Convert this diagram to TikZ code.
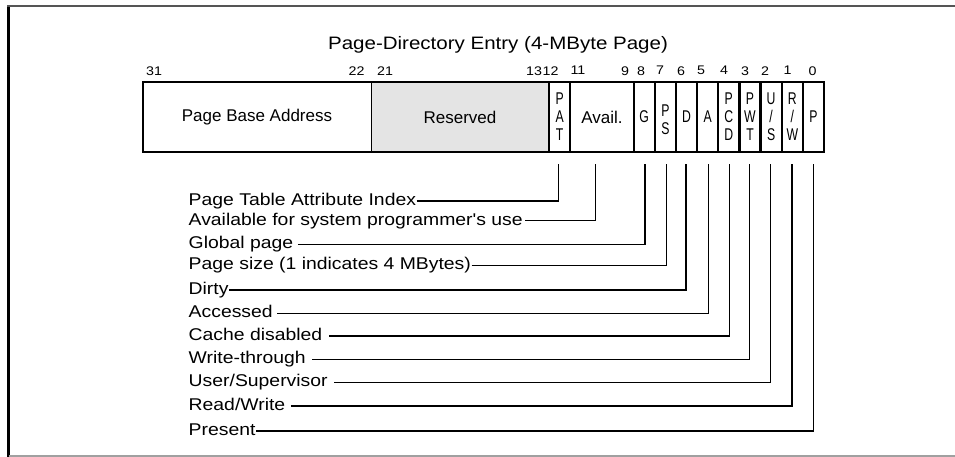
\documentclass[tikz,border=0pt]{standalone}
\usepackage{fontspec}
\setmainfont{Liberation Sans}
\newfontfamily\lblfont{Liberation Sans}[FakeStretch=1.14]
\newfontfamily\narrowfont{Liberation Sans}[FakeStretch=0.72]
\definecolor{resv}{HTML}{E4E4E4}
\definecolor{topline}{HTML}{555555}
\definecolor{botline}{HTML}{A0A0A0}
\begin{document}
\begin{tikzpicture}[x=1pt,y=-1pt,
  cell/.style={draw, line width=2.2pt, inner sep=0pt, minimum height=70pt, anchor=center},
  bigcell/.style={draw, line width=1pt, inner sep=0pt, minimum height=70pt, anchor=center, font=\fontsize{17}{20}\selectfont},
  stk/.style={align=center, font=\narrowfont\fontsize{17}{18}\selectfont},
  lbl/.style={anchor=base west, inner ysep=0pt, inner xsep=0.5pt, font=\lblfont\fontsize{17}{20}\selectfont},
  num/.style={inner sep=0pt, font=\lblfont\fontsize{12.5}{14}\selectfont},
  thk/.style={line width=1.6pt},
  thn/.style={line width=0.9pt}]
\useasboundingbox (0,0) rectangle (955,457);
% frame
\draw[line width=3.5pt] (8.7,5.5) -- (8.7,457);
\draw[topline, line width=2pt] (7,6.5) -- (955,6.5);
\draw[botline, line width=1.2pt] (8.7,456) -- (955,456);
% title
\node[font=\lblfont\fontsize{18}{20}\selectfont] (title) at (498,45) {Page-Directory Entry (4-MByte Page)};
% bit numbers
\node[num] (n31) at (154,70.7) {31};
\node[num] (n22) at (356.5,70.7) {22};
\node[num] (n21) at (385,70.7) {21};
\node[num] (n13) at (534,70.7) {13};
\node[num] (n12) at (550.5,70.7) {12};
\node[num] (n11) at (578,70.7) {11};
\node[num] (n9) at (625,70.7) {9};
\node[num] (n8) at (641,70.7) {8};
\node[num] (n7) at (660,70.7) {7};
\node[num] (n6) at (681,70.7) {6};
\node[num] (n5) at (701,70.7) {5};
\node[num] (n4) at (724,70.7) {4};
\node[num] (n3) at (745,70.7) {3};
\node[num] (n2) at (765,70.7) {2};
\node[num] (n1) at (787.5,70.7) {1};
\node[num] (n0) at (812.5,70.7) {0};
% register
\node[bigcell, minimum width=228pt] (pba) at (257,117) {Page Base Address};
\node[bigcell, fill=resv, minimum width=178pt] (res) at (460,117) {Reserved};
\node[cell, minimum width=21.15pt] (pat) at (559.6,117) {};
\node[stk] at (pat) {P\\A\\T};
\node[cell, minimum width=63.45pt, font=\fontsize{17}{20}\selectfont] (avl) at (601.9,117) {Avail.};
\node[cell, minimum width=21.15pt] (g) at (644.2,117) {};
\node[stk] at (g) {G};
\node[cell, minimum width=21.15pt] (ps) at (665.4,117) {};
\node[stk] at ([yshift=-3pt]ps.center) {P\\S};
\node[cell, minimum width=21.15pt] (d) at (686.5,117) {};
\node[stk] at (d) {D};
\node[cell, minimum width=21.15pt] (a) at (707.6,117) {};
\node[stk] at (a) {A};
\node[cell, minimum width=21.15pt] (pcd) at (728.8,117) {};
\node[stk] at (pcd) {P\\C\\D};
\node[cell, minimum width=21.15pt] (pwt) at (750,117) {};
\node[stk] at (pwt) {P\\W\\T};
\node[cell, minimum width=21.15pt] (us) at (771.1,117) {};
\node[stk] at (us) {U\\/\\S};
\node[cell, minimum width=21.15pt] (rw) at (792.3,117) {};
\node[stk] at (rw) {R\\/\\W};
\node[cell, minimum width=21.15pt] (p) at (813.4,117) {};
\node[stk] at (p) {P};
\draw[line width=2pt] (143,82) rectangle (824,152);
% labels
\node[lbl] (l1) at (188,205.5) {Page Table Attribute Index};
\node[lbl] (l2) at (188,225.2) {Available for system programmer's use};
\node[lbl] (l3) at (188,248.8) {Global page};
\node[lbl] (l4) at (188,269.5) {Page size (1 indicates 4 MBytes)};
\node[lbl] (l5) at (188,294.5) {Dirty};
\node[lbl] (l6) at (188,317.8) {Accessed};
\node[lbl] (l7) at (188,340.5) {Cache disabled};
\node[lbl] (l8) at (188,363.8) {Write-through};
\node[lbl] (l9) at (188,386.8) {User/Supervisor};
\node[lbl] (l10) at (188,410.5) {Read/Write};
\node[lbl] (l11) at (188,435.2) {Present};
% connectors
\draw[thk] ([yshift=4.5pt]l1.base east) -| ([xshift=-1.3pt,yshift=-11pt]pat.south);
\draw[thn] ([xshift=2pt,yshift=4.5pt]l2.base east) -| ([xshift=-6.9pt,yshift=-11pt]avl.south);
\draw[thk] ([xshift=4pt,yshift=4.5pt]l3.base east) -| ([xshift=0.8pt,yshift=-11pt]g.south);
\draw[thn] ([yshift=4.5pt]l4.base east) -| ([xshift=1.3pt,yshift=-11pt]ps.south);
\draw[thk] ([yshift=4.5pt]l5.base east) -| ([xshift=-0.8pt,yshift=-11pt]d.south);
\draw[thn] ([xshift=4pt,yshift=4.5pt]l6.base east) -| ([xshift=0.7pt,yshift=-11pt]a.south);
\draw[thk] ([xshift=6pt,yshift=4.5pt]l7.base east) -| ([xshift=0.5pt,yshift=-11pt]pcd.south);
\draw[thn] ([xshift=6pt,yshift=4.5pt]l8.base east) -| ([xshift=-0.7pt,yshift=-11pt]pwt.south);
\draw[thn] ([xshift=6pt,yshift=4.5pt]l9.base east) -| ([xshift=-1.1pt,yshift=-11pt]us.south);
\draw[thk] ([xshift=5pt,yshift=4.5pt]l10.base east) -| ([xshift=-0.6pt,yshift=-11pt]rw.south);
\draw[thk] ([yshift=4.5pt]l11.base east) -| ([xshift=-0.1pt,yshift=-11pt]p.south);
\end{tikzpicture}
\end{document}
